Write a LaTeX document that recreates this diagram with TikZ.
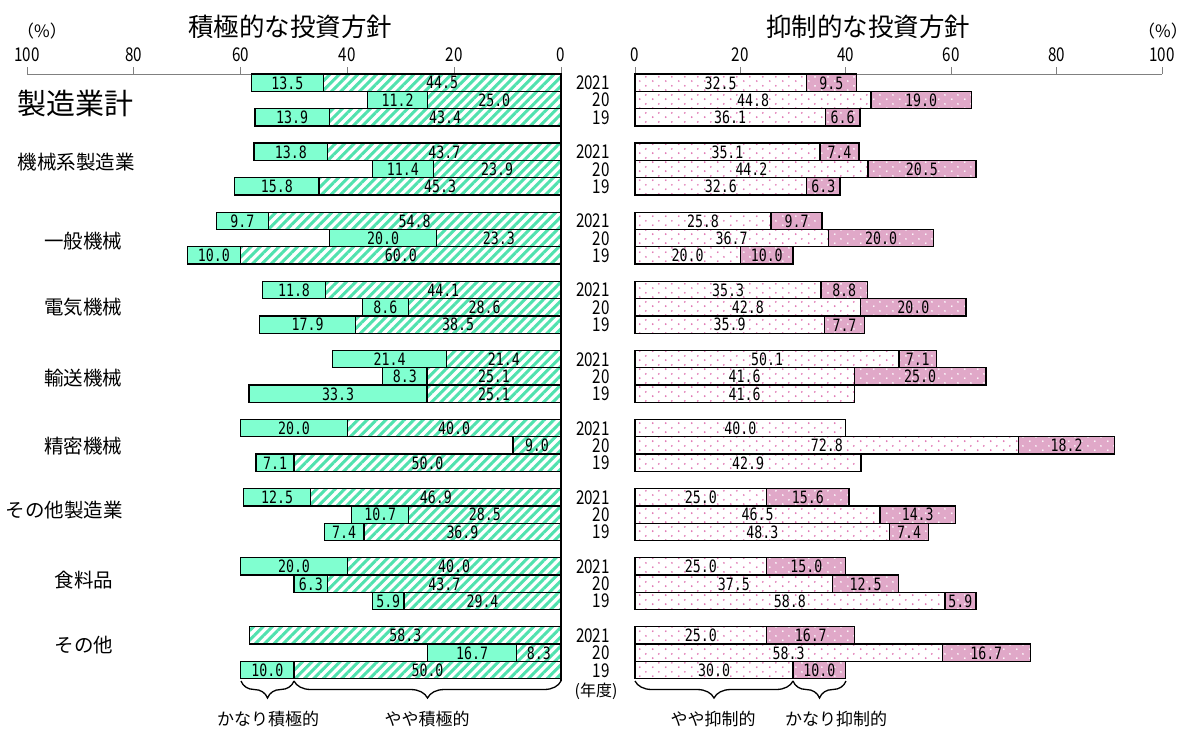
\documentclass[tikz,border=0pt]{standalone}
\usepackage{fontspec}
\setmainfont{Noto Sans CJK JP}
\newfontfamily\numf[FakeStretch=0.78]{DejaVu Sans Mono}
\newfontfamily\yrf[FakeStretch=0.8]{Noto Sans CJK JP}
\usetikzlibrary{patterns.meta,decorations.pathreplacing}
\newcommand\myfs[1]{\fontsize{#1}{#1}\selectfont}
\definecolor{solidgreen}{HTML}{80FFD0}
\definecolor{hatchgreen}{HTML}{50E2AE}
\definecolor{pinkfill}{HTML}{E0A8C8}
\definecolor{pinkdot}{HTML}{E070B0}
\definecolor{axisgray}{HTML}{808080}
\pgfdeclarelayer{fills}
\pgfsetlayers{fills,main}
\tikzdeclarepattern{
  name=mydots,
  type=uncolored,
  bottom left={(0pt,0pt)},
  top right={(13pt,9pt)},
  tile size={(13pt,9pt)},
  code={
    \fill (3pt,2pt) circle [radius=1pt];
    \fill (9.5pt,6.5pt) circle [radius=1pt];
  }
}
\tikzset{
  barline/.style={draw=black, line width=1.3pt},
  kanariP/.style={fill=solidgreen},
  yayaP/.style={pattern={Lines[angle=45,distance=6.6pt,line width=3pt]}, pattern color=hatchgreen},
  yayaN/.style={pattern=mydots, pattern color=pinkdot},
  kanariN/.style={fill=pinkfill, postaction={pattern=mydots, pattern color=white}},
  val/.style={font=\numf\myfs{17}, inner sep=0pt},
  yr/.style={font=\yrf\myfs{19}, inner sep=0pt, anchor=east},
  tick/.style={font=\yrf\myfs{19}, inner sep=0pt},
  cat/.style={font=\myfs{19.5}, inner sep=0pt},
  ttl/.style={font=\myfs{25.5}, inner sep=0pt},
  brlab/.style={font=\myfs{17}, inner sep=0pt},
  brc/.style={draw=black, line width=1.3pt, decorate, decoration={brace, amplitude=17pt}},
}
\begin{document}
\begin{tikzpicture}[x=1pt,y=-1pt]
\begin{pgfonlayer}{fills}
\fill[white] (0,0) rectangle (1188,731);
\end{pgfonlayer}
\useasboundingbox (0,0) rectangle (1188,731);
% titles
\node[ttl] (tL) at (290,27) {積極的な投資方針};
\node[ttl] (tR) at (868,27) {抑制的な投資方針};
\node[font=\myfs{17}, inner sep=0pt] (pL) at (42,31) {（\%）};
\node[font=\myfs{17}, inner sep=0pt] (pR) at (1163,31) {（\%）};
% axes
\draw[axisgray, line width=1pt] (27,74) -- (561,74);
\draw[axisgray, line width=1pt] (635,74) -- (1162,74);
\foreach \v in {0,20,40,60,80,100}{
  \draw[axisgray, line width=1pt] (561-\v*5.34,74) -- ++(0,-7);
  \node[tick] (axL\v) at (561-\v*5.34,55) {\v};
  \draw[axisgray, line width=1pt] (635+\v*5.27,74) -- ++(0,-7);
  \node[tick] (axR\v) at (635+\v*5.27,55) {\v};
}
% left bars
\foreach \g/\r/\a/\b in {
0/0/13.5/44.5, 0/1/11.2/25.0, 0/2/13.9/43.4,
1/0/13.8/43.7, 1/1/11.4/23.9, 1/2/15.8/45.3,
2/0/9.7/54.8, 2/1/20.0/23.3, 2/2/10.0/60.0,
3/0/11.8/44.1, 3/1/8.6/28.6, 3/2/17.9/38.5,
4/0/21.4/21.4, 4/1/8.3/25.1, 4/2/33.3/25.1,
5/0/20.0/40.0, 5/1/0/9.0, 5/2/7.1/50.0,
6/0/12.5/46.9, 6/1/10.7/28.5, 6/2/7.4/36.9,
7/0/20.0/40.0, 7/1/6.3/43.7, 7/2/5.9/29.4,
8/0/0/58.3, 8/1/16.7/8.3, 8/2/10.0/50.0}{
  \pgfmathsetmacro\yt{74+69.1*\g+17.3*\r}
  \pgfmathsetmacro\yb{\yt+17.3}
  \pgfmathsetmacro\ym{\yt+8.9}
  \pgfmathsetmacro\xb{561-\b*5.34}
  \pgfmathsetmacro\xa{\xb-\a*5.34}
  \begin{pgfonlayer}{fills}
  \path[yayaP] (561,\yt) rectangle (\xb,\yb);
  \end{pgfonlayer}
  \draw[barline] (561,\yt) rectangle (\xb,\yb);
  \node[val] (Lb\g\r) at ({(561+\xb)/2},\ym) {\b};
  \ifdim \a pt>0pt
    \begin{pgfonlayer}{fills}
    \path[kanariP] (\xb,\yt) rectangle (\xa,\yb);
    \end{pgfonlayer}
    \draw[barline] (\xb,\yt) rectangle (\xa,\yb);
    \node[val] (La\g\r) at ({(\xb+\xa)/2},\ym) {\a};
  \fi
}
% right bars
\foreach \g/\r/\c/\d in {
0/0/32.5/9.5, 0/1/44.8/19.0, 0/2/36.1/6.6,
1/0/35.1/7.4, 1/1/44.2/20.5, 1/2/32.6/6.3,
2/0/25.8/9.7, 2/1/36.7/20.0, 2/2/20.0/10.0,
3/0/35.3/8.8, 3/1/42.8/20.0, 3/2/35.9/7.7,
4/0/50.1/7.1, 4/1/41.6/25.0, 4/2/41.6/0,
5/0/40.0/0, 5/1/72.8/18.2, 5/2/42.9/0,
6/0/25.0/15.6, 6/1/46.5/14.3, 6/2/48.3/7.4,
7/0/25.0/15.0, 7/1/37.5/12.5, 7/2/58.8/5.9,
8/0/25.0/16.7, 8/1/58.3/16.7, 8/2/30.0/10.0}{
  \pgfmathsetmacro\yt{74+69.1*\g+17.3*\r}
  \pgfmathsetmacro\yb{\yt+17.3}
  \pgfmathsetmacro\ym{\yt+8.9}
  \pgfmathsetmacro\xc{635+\c*5.27}
  \pgfmathsetmacro\xd{\xc+\d*5.27}
  \begin{pgfonlayer}{fills}
  \path[yayaN] (635,\yt) rectangle (\xc,\yb);
  \end{pgfonlayer}
  \draw[barline] (635,\yt) rectangle (\xc,\yb);
  \node[val] (Rc\g\r) at ({(635+\xc)/2},\ym) {\c};
  \ifdim \d pt>0pt
    \begin{pgfonlayer}{fills}
    \path[kanariN] (\xc,\yt) rectangle (\xd,\yb);
    \end{pgfonlayer}
    \draw[barline] (\xc,\yt) rectangle (\xd,\yb);
    \node[val] (Rd\g\r) at ({(\xc+\xd)/2},\ym) {\d};
  \fi
}
% year labels
\foreach \g in {0,...,8}{
  \pgfmathsetmacro\ya{74+69.1*\g+8.9}
  \node[yr] (Y\g a) at (610,\ya) {2021};
  \node[yr] (Y\g b) at (610,\ya+17.3) {20};
  \node[yr] (Y\g c) at (610,\ya+34.6) {19};
}
\node[font=\myfs{16}, inner sep=0pt] (nendo) at (596,691) {(年度)};
% vertical axis
\draw[black, line width=1.3pt] (561,74) -- (561,681);
% category labels
\node[font=\myfs{29}, inner sep=0pt] (c1) at (75,103) {製造業計};
\node[cat] (c2) at (76,162) {機械系製造業};
\node[cat] (c3) at (83,241) {一般機械};
\node[cat] (c4) at (83,307) {電気機械};
\node[cat] (c5) at (83,378) {輸送機械};
\node[cat] (c6) at (83,446) {精密機械};
\node[cat] (c7) at (64,510) {その他製造業};
\node[cat] (c8) at (84,580) {食料品};
\node[cat] (c9) at (84,645) {その他};
% braces
\draw[brc] (561,681) -- (294,681);
\draw[brc] (294,681) -- (241,681);
\draw[brc] (793,681) -- (635,681);
\draw[brc] (846,681) -- (793,681);
\node[brlab] (b1) at (268,719) {かなり積極的};
\node[brlab] (b2) at (427,719) {やや積極的};
\node[brlab] (b3) at (713,719) {やや抑制的};
\node[brlab] (b4) at (836,719) {かなり抑制的};
\end{tikzpicture}
\end{document}
